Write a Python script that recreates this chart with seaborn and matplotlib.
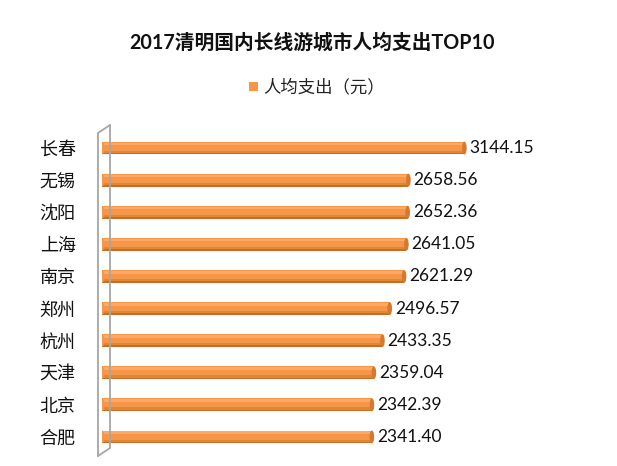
import numpy as np
import pandas as pd
import matplotlib
matplotlib.use('Agg')
import matplotlib.pyplot as plt
import seaborn as sns
from matplotlib.lines import Line2D
from matplotlib.patches import Ellipse, Rectangle

cities = ['长春', '无锡', '沈阳', '上海', '南京', '郑州', '杭州', '天津', '北京', '合肥']
spend = [3144.15, 2658.56, 2652.36, 2641.05, 2621.29, 2496.57, 2433.35, 2359.04, 2342.39, 2341.40]
title = '2017清明国内长线游城市人均支出TOP10'
series_name = '人均支出（元）'

sns.set_style('white')
plt.rcParams['font.family'] = ['Noto Sans CJK SC', 'DejaVu Sans']

W, H = 617, 466
fig = plt.figure(figsize=(W / 100, H / 100), dpi=100)

# axes placed in pixels: x 102..563, y 132..453
ax = fig.add_axes([102 / W, 1 - 453 / H, 461 / W, 321 / H])

df = pd.DataFrame({'city': cities, 'spend': spend})
orange = '#F79646'
sns.barplot(data=df, y='city', x='spend', orient='h', color=orange,
            width=0.40, saturation=1, ax=ax, edgecolor='none')

# soft cylinder shading
y = np.arange(len(cities))
ax.barh(y - 0.13, spend, height=0.08, color='#F9A96A', edgecolor='none')
ax.barh(y + 0.12, spend, height=0.08, color='#E0853A', edgecolor='none')
ax.barh(y + 0.175, spend, height=0.05, color='#C76E25', edgecolor='none')
for yi, v in zip(y, spend):
    ax.add_patch(Ellipse((v, yi), 40, 0.40, facecolor='#D27A30', edgecolor='none', zorder=3))
    ax.add_patch(Ellipse((0, yi), 40, 0.40, facecolor='#F79646', edgecolor='none', zorder=3))
    ax.text(v + 45, yi, f'{v:.2f}', va='center', ha='left', fontsize=12.5,
            family=['Lato', 'DejaVu Sans'], color='#111111')

ax.set_xlim(0, 4000)
ax.set_ylim(len(cities) - 0.5, -0.5)
ax.set_xlabel('')
ax.set_ylabel('')
ax.set_xticks([])
ax.tick_params(axis='y', length=0, pad=19, labelsize=13)
for lab in ax.get_yticklabels():
    lab.set_color('#111111')
for s in ax.spines.values():
    s.set_visible(False)

# 3D side wall on the left
def px(xp, yp):
    return xp / W, 1 - yp / H

wall = '#A6A6A6'
for (x0, y0), (x1, y1) in [((98, 133), (98, 456)), ((110, 125), (110, 448)),
                           ((98, 133), (110, 125)), ((98, 456), (110, 448))]:
    a, b = px(x0, y0), px(x1, y1)
    fig.add_artist(Line2D([a[0], b[0]], [a[1], b[1]], color=wall, lw=1.3))

fig.text(312 / W, 1 - 43 / H, title, ha='center', va='center', fontsize=14.2,
         fontweight='bold', family=['Lato', 'Noto Sans CJK SC'], color='#111111')

# legend
fig.add_artist(Rectangle(px(249, 91), 9 / W, 9 / H, transform=fig.transFigure,
                         facecolor=orange, edgecolor='none'))
fig.text(263 / W, 1 - 87 / H, series_name, ha='left', va='center', fontsize=12.5,
         color='#222222')

fig.savefig('out.png', dpi=100)
